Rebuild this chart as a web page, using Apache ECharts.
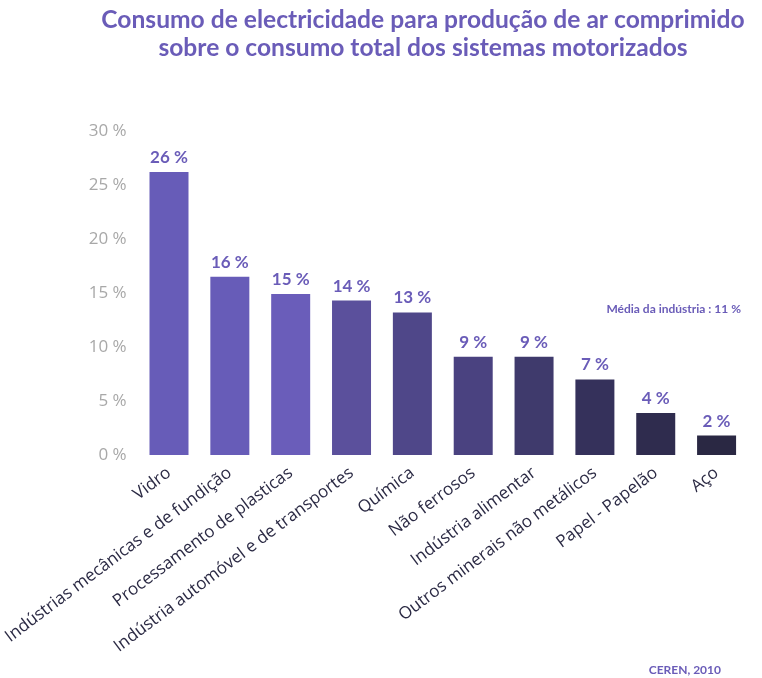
<!DOCTYPE html>
<html>
<head>
<meta charset="utf-8">
<script src="https://cdn.jsdelivr.net/npm/echarts@6/dist/echarts.min.js"></script>
<style>
  html, body { margin: 0; padding: 0; background: #fff; }
  #chart { width: 762px; height: 678px; }
</style>
</head>
<body>
<div id="chart"></div>
<script>
const categories = [
  'Vidro',
  'Indústrias mecânicas e de fundição',
  'Processamento de plasticas',
  'Indústria automóvel e de transportes',
  'Química',
  'Não ferrosos',
  'Indústria alimentar',
  'Outros minerais não metálicos',
  'Papel - Papelão',
  'Aço'
]
const values = [26.2, 16.5, 14.9, 14.3, 13.2, 9.1, 9.1, 7.0, 3.9, 1.8]
const valueLabels = ['26 %', '16 %', '15 %', '14 %', '13 %', '9 %', '9 %', '7 %', '4 %', '2 %']
const barColors = ['#675cb8', '#675cb8', '#6a5dba', '#5b509c', '#4f4789', '#4a4280', '#3f3a6c', '#35315b', '#2f2c4e', '#2a2843']
const yTicks = [0, 5, 10, 15, 20, 25, 30]

const purple = '#6a5cb8'
const chart = echarts.init(document.getElementById('chart'))

chart.setOption({
  animation: false,
  title: [
    {
      text: 'Consumo de electricidade para produção de ar comprimido\nsobre o consumo total dos sistemas motorizados',
      left: 418,
      top: 1,
      textAlign: 'center',
      textStyle: { fontFamily: 'Lato', fontWeight: 'bold', fontSize: 24.6, color: purple, lineHeight: 28 }
    },
    {
      text: 'Média da indústria : 11 %',
      left: 736,
      top: 298,
      textAlign: 'right',
      textStyle: { fontFamily: 'Lato', fontWeight: 'bold', fontSize: 12, color: purple }
    },
    {
      text: 'CEREN, 2010',
      left: 716,
      top: 659,
      textAlign: 'right',
      textStyle: { fontFamily: 'Lato', fontWeight: 'bold', fontSize: 12, color: purple }
    }
  ],
  grid: { left: 137, right: 15, top: 131, bottom: 223 },
  xAxis: {
    type: 'category',
    data: categories,
    axisLine: { show: false },
    axisTick: { show: false },
    axisLabel: {
      rotate: 37,
      interval: 0,
      margin: 16,
      fontFamily: 'Open Sans',
      fontSize: 17,
      color: '#2b2a44'
    }
  },
  yAxis: {
    type: 'value',
    min: 0,
    max: 30,
    interval: 5,
    splitLine: { show: false },
    axisLine: { show: false },
    axisTick: { show: false },
    axisLabel: {
      margin: 12,
      fontFamily: 'Open Sans',
      fontSize: 17,
      color: '#a8a8a8',
      formatter: v => (yTicks.includes(v) ? v + ' %' : '')
    }
  },
  series: [{
    type: 'bar',
    barWidth: 39,
    data: values.map((v, i) => ({ value: v, itemStyle: { color: barColors[i] } })),
    label: {
      show: true,
      position: 'top',
      distance: 6,
      fontFamily: 'Lato',
      fontWeight: 'bold',
      fontSize: 17,
      color: purple,
      formatter: p => valueLabels[p.dataIndex]
    }
  }]
})
</script>
</body>
</html>
